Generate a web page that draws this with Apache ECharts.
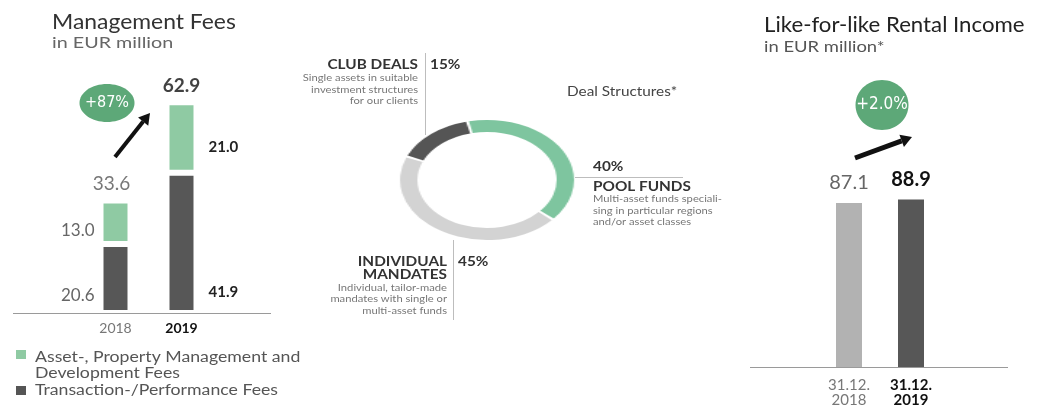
<!DOCTYPE html>
<html>
<head>
<meta charset="utf-8">
<script src="https://cdn.jsdelivr.net/npm/echarts@6/dist/echarts.min.js"></script>
<style>
  body { margin: 0; background: #fff; }
  #main { position: absolute; left: 0; top: 0; width: 1039px; height: 410px; }
  /* donut is squashed in the source, so stretch a round pie sideways */
  #donut { position: absolute; left: 422px; top: 115px; width: 130px; height: 130px; transform: scaleX(1.45); transform-origin: 50% 50%; }
</style>
</head>
<body>
<div id="main"></div>
<div id="donut"></div>
<script>
/* Management Fees */
var mfYears = ['2018', '2019'];
var mfTransaction = [20.6, 41.9];
var mfAsset = [13.0, 21.0];
var mfTotal = [33.6, 62.9];
var mfGrowth = '+87%';

/* Deal Structures */
var dealNames = ['Pool Funds', 'Individual Mandates', 'Club Deals'];
var dealShares = [40, 45, 15];

/* Like-for-like Rental Income */
var rentDates = ['31.12.\n2018', '31.12.\n2019'];
var rentValues = [87.1, 88.9];
var rentGrowth = '+2.0%';

var FONT = 'Lato, "Noto Sans", sans-serif';
var NARROW = '"Liberation Sans Narrow", "DejaVu Sans Condensed", sans-serif';

window.onload = function () {
    var myChart = echarts.init(document.getElementById('main'));
    var donut = echarts.init(document.getElementById('donut'));

    // labels beside the stacked segments: 2018 on the left, 2019 on the right
    function sideLabel(i, yPos) {
        if (i == 0) {
            return { show: true, position: [-6, yPos], align: 'right', verticalAlign: 'middle',
                     fontSize: 17, color: '#666', fontFamily: FONT };
        }
        return { show: true, position: [42, yPos], align: 'left', verticalAlign: 'middle',
                 fontSize: 15, fontWeight: 'bold', color: '#222', fontFamily: FONT };
    }
    var darkPos = ['75%', '85%'], greenPos = ['70%', '64%'];
    var oneDec = function (p) { return p.value.toFixed(1); };

    var transData = mfTransaction.map(function (v, i) {
        return { value: v, label: sideLabel(i, darkPos[i]) };
    });
    var assetData = mfAsset.map(function (v, i) {
        return { value: v, label: sideLabel(i, greenPos[i]) };
    });
    var totalData = mfTotal.map(function (v, i) {
        return {
            value: v,
            label: i == 0 ? { color: '#555', fontWeight: 'normal', fontSize: 19, offset: [-4, 0] }
                          : { color: '#111', fontWeight: 'bold', fontSize: 19 }
        };
    });
    var rentData = rentValues.map(function (v, i) {
        return {
            value: v,
            itemStyle: { color: i == 0 ? '#b2b2b2' : '#575757' },
            label: i == 0 ? { color: '#666', fontWeight: 'normal', fontSize: 20 }
                          : { color: '#111', fontWeight: 'bold', fontSize: 20 }
        };
    });

    function arrow(tail, tip, w, head, half) {
        var dx = tip[0] - tail[0], dy = tip[1] - tail[1];
        var len = Math.sqrt(dx * dx + dy * dy), ux = dx / len, uy = dy / len;
        var bx = tip[0] - head * ux, by = tip[1] - head * uy;
        return [
            { type: 'line', shape: { x1: tail[0], y1: tail[1], x2: bx, y2: by },
              style: { stroke: '#111', lineWidth: w } },
            { type: 'polygon', shape: { points: [tip, [bx - half * uy, by + half * ux], [bx + half * uy, by - half * ux]] },
              style: { fill: '#111' } }
        ];
    }
    // source picture is stretched sideways, so texts get a horizontal scale
    function txt(x, y, s, size, color, weight, align, lh, sx) {
        return { type: 'text', x: x, y: y, scaleX: sx || 1, style: {
            text: s, fontSize: size, fontFamily: FONT, fontWeight: weight || 'normal',
            fill: color, align: align || 'left', verticalAlign: 'middle', lineHeight: lh || size * 1.2 } };
    }
    var MS = 1.18;

    var graphics = [
        txt(52, 22, 'Management Fees', 21, '#333', 'normal', 'left', 0, 1.09),
        txt(52, 43, 'in EUR million', 14.5, '#666', 'normal', 'left', 0, 1.36),
        txt(764, 25, 'Like-for-like Rental Income', 22, '#222', 'normal', 'left', 0, 1.01),
        txt(764, 47, 'in EUR million*', 16, '#555', 'normal', 'left', 0, 1.15),
        // base lines
        { type: 'line', shape: { x1: 13, y1: 313.5, x2: 271, y2: 313.5 }, style: { stroke: '#9a9a9a', lineWidth: 1 } },
        { type: 'line', shape: { x1: 750, y1: 367.5, x2: 1008, y2: 367.5 }, style: { stroke: '#9a9a9a', lineWidth: 1 } },
        // growth bubbles
        { type: 'ellipse', shape: { cx: 107, cy: 103, rx: 27.5, ry: 19 }, style: { fill: '#5da878' } },
        { type: 'text', x: 107, y: 103, style: { text: mfGrowth, fontSize: 16, fontFamily: NARROW, fill: '#fff', align: 'center', verticalAlign: 'middle' } },
        { type: 'ellipse', shape: { cx: 882, cy: 105, rx: 26.5, ry: 25 }, style: { fill: '#5da878' } },
        { type: 'text', x: 882, y: 105, style: { text: rentGrowth, fontSize: 17, fontFamily: NARROW, fill: '#fff', align: 'center', verticalAlign: 'middle' } },
        // legend
        { type: 'rect', shape: { x: 16, y: 350, width: 10, height: 9 }, style: { fill: '#8fcaa3' } },
        txt(35, 365, 'Asset-, Property Management and\nDevelopment Fees', 14.5, '#555', 'normal', 'left', 16, 1.22),
        { type: 'rect', shape: { x: 16, y: 386, width: 10, height: 9 }, style: { fill: '#555' } },
        txt(35, 390, 'Transaction-/Performance Fees', 14.5, '#555', 'normal', 'left', 0, 1.22),
        // deal structures annotations
        { type: 'line', shape: { x1: 425.5, y1: 53, x2: 425.5, y2: 135 }, style: { stroke: '#bdbdbd', lineWidth: 1 } },
        txt(418, 65, dealNames[2].toUpperCase(), 13, '#333', 'bold', 'right', 0, MS),
        txt(430, 65, dealShares[2] + '%', 13, '#333', 'bold', 'left', 0, MS),
        txt(418, 89.5, 'Single assets in suitable\ninvestment structures\nfor our clients', 9.5, '#777', 'normal', 'right', 11.5, MS),
        txt(567, 92, 'Deal Structures*', 13, '#444', 'normal', 'left', 0, MS),
        { type: 'line', shape: { x1: 575, y1: 177.5, x2: 683, y2: 177.5 }, style: { stroke: '#bdbdbd', lineWidth: 1 } },
        txt(593, 167, dealShares[0] + '%', 13, '#333', 'bold', 'left', 0, MS),
        txt(593, 187, dealNames[0].toUpperCase(), 13, '#333', 'bold', 'left', 0, MS),
        txt(593, 210.5, 'Multi-asset funds speciali-\nsing in particular regions\nand/or asset classes', 9.5, '#777', 'normal', 'left', 11.5, MS),
        { type: 'line', shape: { x1: 453.5, y1: 240, x2: 453.5, y2: 320 }, style: { stroke: '#bdbdbd', lineWidth: 1 } },
        txt(447, 268.5, 'INDIVIDUAL\nMANDATES', 13, '#333', 'bold', 'right', 13, MS),
        txt(458, 262, dealShares[1] + '%', 13, '#333', 'bold', 'left', 0, MS),
        txt(447, 299, 'Individual, tailor-made\nmandates with single or\nmulti-asset funds', 9.5, '#777', 'normal', 'right', 11.5, MS)
    ];
    graphics = graphics.concat(arrow([115, 157], [150, 113], 4, 11, 6.5));
    graphics = graphics.concat(arrow([855, 158], [912, 137], 5, 11, 6.5));

    var option = {
        animation: false,
        textStyle: { fontFamily: FONT },
        grid: [
            { left: 82.5, width: 132, top: 78.5, height: 234.5 },
            { left: 818, width: 124, top: 178.7, height: 188.3 }
        ],
        xAxis: [
            {
                type: 'category', gridIndex: 0, data: mfYears,
                axisLine: { show: false }, axisTick: { show: false },
                axisLabel: {
                    margin: 8, interval: 0,
                    formatter: function (v, i) { return i == 1 ? '{b|' + v + '}' : '{n|' + v + '}'; },
                    rich: {
                        n: { fontSize: 14, color: '#777', fontFamily: FONT },
                        b: { fontSize: 14, color: '#111', fontWeight: 'bold', fontFamily: FONT }
                    }
                }
            },
            {
                type: 'category', gridIndex: 1, data: rentDates,
                axisLine: { show: false }, axisTick: { show: false },
                axisLabel: {
                    margin: 10, interval: 0,
                    formatter: function (v, i) {
                        var k = i == 1 ? 'b' : 'n';
                        return v.split('\n').map(function (s) { return '{' + k + '|' + s + '}'; }).join('\n');
                    },
                    rich: {
                        n: { fontSize: 15, color: '#777', lineHeight: 15.5, fontFamily: FONT },
                        b: { fontSize: 15, color: '#111', fontWeight: 'bold', lineHeight: 15.5, fontFamily: FONT }
                    }
                }
            }
        ],
        yAxis: [
            { type: 'value', gridIndex: 0, min: 0, max: 70, show: false },
            { type: 'value', gridIndex: 1, min: 0, max: 100, show: false }
        ],
        series: [
            {
                name: 'Transaction-/Performance Fees', type: 'bar', stack: 'mf',
                xAxisIndex: 0, yAxisIndex: 0, barWidth: 30,
                itemStyle: { color: '#575757', borderColor: '#fff', borderWidth: 3 },
                label: { formatter: oneDec },
                data: transData
            },
            {
                name: 'Asset-, Property Management and Development Fees', type: 'bar', stack: 'mf',
                xAxisIndex: 0, yAxisIndex: 0, barWidth: 30,
                itemStyle: { color: '#8fcaa3', borderColor: '#fff', borderWidth: 3 },
                label: { formatter: oneDec },
                data: assetData
            },
            {
                name: 'Total', type: 'scatter', xAxisIndex: 0, yAxisIndex: 0,
                symbolSize: 0, silent: true,
                label: { show: true, position: 'top', distance: 7, fontFamily: FONT, formatter: oneDec },
                data: totalData
            },
            {
                name: 'Rental Income', type: 'bar', xAxisIndex: 1, yAxisIndex: 1, barWidth: 26,
                label: { show: true, position: 'top', distance: 10, fontFamily: FONT, formatter: oneDec },
                data: rentData
            }
        ],
        graphic: graphics
    };
    myChart.setOption(option);

    var dealColors = ['#7ec59f', '#d3d3d3', '#555555'];
    donut.setOption({
        animation: false,
        series: [{
            type: 'pie', radius: [48, 60], center: ['50%', '50%'],
            startAngle: 103, clockwise: true, padAngle: 2,
            label: { show: false }, labelLine: { show: false }, silent: true,
            data: dealShares.map(function (v, i) {
                return { name: dealNames[i], value: v, itemStyle: { color: dealColors[i] } };
            })
        }]
    });
};
</script>
</body>
</html>
